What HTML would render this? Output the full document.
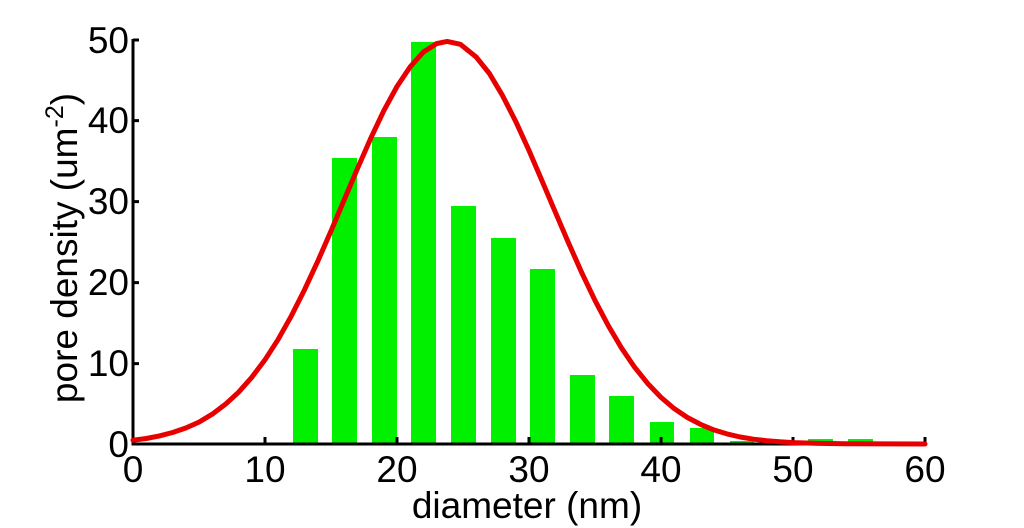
<!DOCTYPE html>
<html><head><style>body{margin:0;background:#fff}svg{display:block}</style></head>
<body>
<svg width="1024" height="528" viewBox="0 0 1024 528" xmlns="http://www.w3.org/2000/svg" font-family="Liberation Sans, Arial, sans-serif">
<rect width="1024" height="528" fill="#fff"/>
<g fill="#00f000">
<rect x="293" y="349" width="25" height="95"/>
<rect x="332" y="158" width="25" height="286"/>
<rect x="372" y="137" width="25" height="307"/>
<rect x="411" y="42" width="25" height="402"/>
<rect x="451" y="206" width="25" height="238"/>
<rect x="491" y="238" width="25" height="206"/>
<rect x="530" y="269" width="25" height="175"/>
<rect x="570" y="375" width="25" height="69"/>
<rect x="609" y="396" width="25" height="48"/>
<rect x="650" y="422" width="24" height="22"/>
<rect x="690" y="428" width="24" height="16"/>
<rect x="730" y="441" width="24" height="3"/>
<rect x="808" y="439" width="25" height="5"/>
<rect x="848" y="439" width="25" height="5"/>
</g>
<g stroke="#000" stroke-width="3" fill="none">
<path d="M133,39 V444 H927"/>
<path d="M133,40 h6 M133,120.6 h6 M133,201.6 h6 M133,282.6 h6 M133,363.6 h6"/>
<path d="M265,444 v-7 M397,444 v-7 M529,444 v-7 M661,444 v-7 M793,444 v-7 M925,444 v-7"/>
</g>
<polyline fill="none" stroke="#e80000" stroke-width="5" stroke-linejoin="round" stroke-linecap="round" points="133,440.2 146.2,438.5 159.4,435.9 172.6,432.5 185.8,428 199,422.1 212.2,414.2 225.4,404.3 238.6,392.2 251.8,377.3 265,359.8 278.2,339.3 291.4,315.8 304.6,289.6 317.8,261.2 331,231 344.2,199.9 357.4,168.7 370.6,138.6 383.8,110.7 397,86.5 410.2,66.8 423.4,52 436.6,43.6 447.2,41.4 460.4,44.3 476.2,57.1 489.4,73.5 502.6,95.7 515.8,121.6 529,150.5 542.2,181.2 555.4,212.3 568.6,243.1 581.8,272.8 595,300.4 608.2,325.5 621.4,347.8 634.6,367.2 647.8,383.6 661,397.4 674.2,408.6 687.4,417.5 700.6,424.4 713.8,429.9 727,433.9 740.2,437 753.4,439.2 766.6,440.7 779.8,441.8 793,442.6 819.4,443.4 845.8,443.7 925,444"/>
<g font-size="37" fill="#000" text-anchor="end">
<text x="129" y="457">0</text>
<text x="129" y="376">10</text>
<text x="129" y="295">20</text>
<text x="129" y="214">30</text>
<text x="129" y="133">40</text>
<text x="129" y="53">50</text>
</g>
<g font-size="37" fill="#000" text-anchor="middle">
<text x="133" y="482">0</text>
<text x="265" y="482">10</text>
<text x="397" y="482">20</text>
<text x="529" y="482">30</text>
<text x="661" y="482">40</text>
<text x="793" y="482">50</text>
<text x="925" y="482">60</text>
<text x="527" y="518" font-size="37">diameter (nm)</text>
</g>
<text transform="translate(77,248) rotate(-90)" font-size="37" text-anchor="middle" fill="#000">pore density (um<tspan dy="-14" font-size="25">-2</tspan><tspan dy="14">)</tspan></text>
</svg>
</body></html>
